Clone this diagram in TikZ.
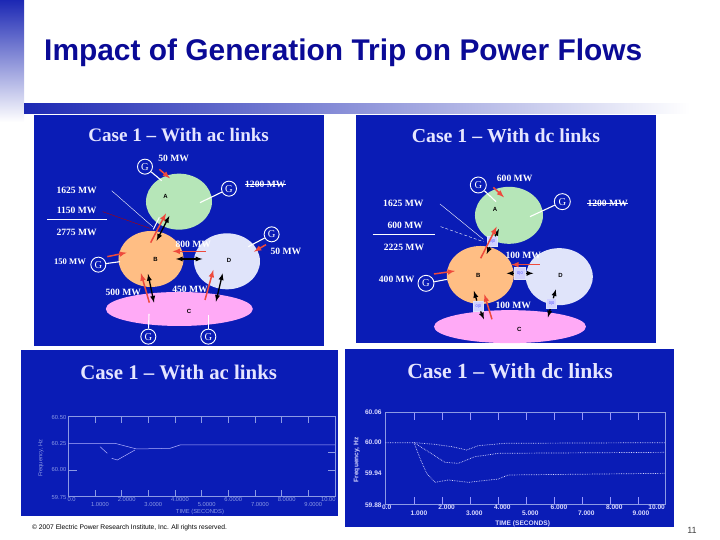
\documentclass[tikz,border=0pt]{standalone}
\usepackage{fontspec}
\setmainfont{Liberation Serif}
\setsansfont{Liberation Sans}
\usetikzlibrary{shapes.geometric}
\definecolor{panelblue}{HTML}{0A1CB6}
\definecolor{barblue}{HTML}{1C28B4}
\definecolor{titleblue}{HTML}{0A0A96}
\definecolor{zonegreen}{HTML}{B6E6B8}
\definecolor{zoneorange}{HTML}{FFBE84}
\definecolor{zonelav}{HTML}{E0E4FA}
\definecolor{zonepink}{HTML}{FFAAF6}
\definecolor{flowred}{HTML}{EE4A3C}
\definecolor{plotline}{HTML}{8C9AE4}
\tikzset{
  panel/.style={fill=panelblue,draw=none},
  casetitle/.style={font=\rmfamily\bfseries\fontsize{#1}{#1}\selectfont,text=white!90!blue},
  mwlabel/.style={font=\rmfamily\bfseries\fontsize{9.6}{10}\selectfont,text=white,inner sep=0pt},
  zone/.style={ellipse,draw=none,inner sep=0pt,font=\sffamily\bfseries\fontsize{6}{7}\selectfont,text=black},
  gen/.style={circle,draw=white,line width=0.9pt,fill=panelblue,text=white,minimum size=#1,inner sep=0pt,font=\rmfamily\fontsize{10.5}{10}\selectfont},
  genline/.style={white,line width=1.1pt},
  flow/.style={->,flowred,line width=1.5pt},
  tie/.style={<->,black,line width=1.3pt},
  tieshort/.style={->,black,line width=1.3pt},
  dclink/.style={rectangle,draw=zonelav,line width=0.8pt,fill=white!82!blue,text=blue!70!white,inner sep=0pt,minimum size=#1,font=\sffamily\fontsize{4}{4}\selectfont},
  plotlab/.style={font=\sffamily\fontsize{5.8}{6}\selectfont,inner sep=0pt,text=#1},
  plotlabb/.style={font=\sffamily\bfseries\fontsize{6.6}{7}\selectfont,inner sep=0pt,text=white!85!blue},
}
\begin{document}
\begin{tikzpicture}[x=1pt,y=-1pt,>=latex]
\useasboundingbox (0,0) rectangle (720,540);

% slide frame
\shade[top color=barblue,bottom color=white] (0,0) rectangle (24,122);
\shade[left color=barblue,right color=white] (24,104) rectangle (690,114);
\node[anchor=west,inner sep=0pt,font=\sffamily\bfseries\fontsize{29.9}{32}\selectfont,text=titleblue] (slidetitle) at (44,53) {Impact of Generation Trip on Power Flows};

% top left, ac links
\begin{scope}[shift={(30,110)},x=0.3333pt,y=-0.3333pt]
\fill[panel] (12,14) rectangle (882,708);
\node[casetitle=19.1] (atitle) at (446,74) {Case 1 -- With ac links};
\node[zone,fill=zonegreen,minimum width=66pt,minimum height=56pt] (aA) at (447,275) {};
\node[zone,fill=zoneorange,minimum width=65pt,minimum height=56pt] (aB) at (363,447) {};
\node[zone,fill=zonelav,minimum width=66pt,minimum height=56pt] (aD) at (591,454) {};
\node[zone,fill=zonepink,minimum width=147pt,minimum height=34pt] (aC) at (448,597) {};
\node[zone] at (407,258) {A};
\node[zone] at (377,447) {B};
\node[zone] at (597,450) {D};
\node[zone] at (477,605) {C};
\node[gen=15pt] (aG1) at (345,170) {G};
\node[gen=15pt] (aG2) at (597,236) {G};
\node[gen=15pt] (aG3) at (725,373) {G};
\node[gen=15pt] (aG4) at (205,464) {G};
\node[gen=15pt] (aG5) at (355,680) {G};
\node[gen=15pt] (aG6) at (535,680) {G};
\coordinate (aE1) at (395,212);
\coordinate (aE2) at (510,278);
\coordinate (aE3) at (655,410);
\coordinate (aE4) at (270,455);
\coordinate (aE5) at (357,612);
\coordinate (aE6) at (535,615);
\draw[genline] (aG1) -- (aE1);
\draw[genline] (aG2) -- (aE2);
\draw[genline] (aG3) -- (aE3);
\draw[genline] (aG4) -- (aE4);
\draw[genline] (aG5) -- (aE5);
\draw[genline] (aG6) -- (aE6);
\node[mwlabel] (aM1) at (431,146) {50 MW};
\node[mwlabel] (aM2) at (706,222) {1200 MW};
\draw[white,line width=0.6pt] (aM2.west) -- (aM2.east);
\node[mwlabel] (aM3) at (140,242) {1625 MW};
\node[mwlabel] (aM4) at (140,302) {1150 MW};
\node[mwlabel] (aM5) at (140,367) {2775 MW};
\node[mwlabel] (aM6) at (490,402) {800 MW};
\node[mwlabel] (aM7) at (768,424) {50 MW};
\node[mwlabel,font=\rmfamily\bfseries\fontsize{8.6}{9}\selectfont] (aM8) at (120,456) {150 MW};
\node[mwlabel] (aM9) at (280,548) {500 MW};
\node[mwlabel] (aM10) at (480,537) {450 MW};
\coordinate (aS1) at (52,329);
\coordinate (aS2) at (230,329);
\draw[white,line width=0.8pt] (aS1) -- (aS2);
\coordinate (aP1) at (245,242);
\coordinate (aP2) at (368,350);
\coordinate (aP3) at (218,305);
\coordinate (aP4) at (360,355);
\draw[white,line width=0.4pt] (aP1) -- (aP2);
\draw[red!70!black,line width=0.4pt] (aP3) -- (aP4);
\coordinate (aQ1) at (370,358);
\coordinate (aQ2) at (388,322);
\draw[white,line width=1pt] (aQ1) -- (aQ2);
\draw[tie] (380,392) coordinate (aT1) -- (418,318) coordinate (aT2);
\draw[tie] (438,447) coordinate (aT3) -- (517,447) coordinate (aT4);
\draw[tie] (354,492) coordinate (aT5) -- (372,578) coordinate (aT6);
\draw[tie] (578,490) coordinate (aT7) -- (558,575) coordinate (aT8);
\draw[flow] (388,178) coordinate (aF1) -- (420,205) coordinate (aF2);
\draw[flow] (362,398) coordinate (aF3) -- (408,310) coordinate (aF4);
\draw[flow] (528,424) coordinate (aF5) -- (428,424) coordinate (aF6);
\draw[flow] (708,404) coordinate (aF7) -- (672,425) coordinate (aF8);
\draw[flow] (232,440) coordinate (aF9) -- (290,428) coordinate (aF10);
\draw[flow] (358,578) coordinate (aF11) -- (333,490) coordinate (aF12);
\draw[flow] (525,570) coordinate (aF13) -- (550,480) coordinate (aF14);
\end{scope}

% top right, dc links
\begin{scope}[shift={(350,110)},x=0.3333pt,y=-0.3333pt]
\fill[panel] (18,14) rectangle (918,700);
\node[casetitle=19.8] (btitle) at (468,78) {Case 1 -- With dc links};
\node[zone,fill=zonegreen,minimum width=68pt,minimum height=57pt] (bA) at (477,316) {};
\node[zone,fill=zoneorange,minimum width=67pt,minimum height=58pt] (bB) at (391,495) {};
\node[zone,fill=zonelav,minimum width=67pt,minimum height=57pt] (bD) at (628,500) {};
\node[zone,fill=zonepink,minimum width=152pt,minimum height=33pt] (bC) at (480,650) {};
\node[zone] at (435,297) {A};
\node[zone] at (385,497) {B};
\node[zone] at (632,497) {D};
\node[zone] at (508,657) {C};
\node[gen=16pt] (bG1) at (385,225) {G};
\node[gen=16pt] (bG2) at (637,275) {G};
\node[gen=16pt] (bG3) at (228,520) {G};
\coordinate (bE1) at (438,275);
\coordinate (bE2) at (540,320);
\coordinate (bE3) at (292,508);
\draw[genline] (bG1) -- (bE1);
\draw[genline] (bG2) -- (bE2);
\draw[genline] (bG3) -- (bE3);
\node[mwlabel] (bM1) at (494,206) {600 MW};
\node[mwlabel] (bM2) at (773,279) {1200 MW};
\draw[white,line width=0.6pt] (bM2.west) -- (bM2.east);
\node[mwlabel] (bM3) at (160,281) {1625 MW};
\node[mwlabel] (bM4) at (166,346) {600 MW};
\node[mwlabel] (bM5) at (162,411) {2225 MW};
\node[mwlabel] (bM6) at (140,508) {400 MW};
\node[mwlabel] (bM7) at (520,437) {100 MW};
\node[mwlabel] (bM8) at (490,587) {100 MW};
\coordinate (bS1) at (68,373);
\coordinate (bS2) at (254,373);
\draw[white,line width=0.8pt] (bS1) -- (bS2);
\coordinate (bP1) at (270,282);
\coordinate (bP2) at (400,388);
\coordinate (bP3) at (272,350);
\coordinate (bP4) at (400,395);
\draw[white,line width=0.4pt] (bP1) -- (bP2);
\draw[white,densely dashed,line width=0.4pt] (bP3) -- (bP4);
\coordinate (bT1) at (447,357);
\coordinate (bT2) at (410,432);
\coordinate (bT3) at (470,490);
\coordinate (bT4) at (550,490);
\coordinate (bT5) at (372,543);
\coordinate (bT6) at (402,628);
\coordinate (bT7) at (618,538);
\coordinate (bT8) at (594,622);
\node[dclink=10pt] (bL1) at (427,395) {0|0};
\node[dclink=11.5pt] (bL2) at (510,490) {0|0};
\node[dclink=10pt] (bL3) at (385,588) {0|0};
\node[dclink=10pt] (bL4) at (605,581) {0|0};
\draw[tieshort] (bL1) -- (bT1);
\draw[tieshort] (bL1) -- (bT2);
\draw[tieshort] (bL2) -- (bT3);
\draw[tieshort] (bL2) -- (bT4);
\draw[tieshort] (bL3) -- (bT5);
\draw[tieshort] (bL3) -- (bT6);
\draw[tieshort] (bL4) -- (bT7);
\draw[tieshort] (bL4) -- (bT8);
\draw[flow] (430,232) coordinate (bF1) -- (462,262) coordinate (bF2);
\draw[flow] (392,445) coordinate (bF3) -- (440,350) coordinate (bF4);
\draw[flow] (570,464) coordinate (bF5) -- (484,464) coordinate (bF6);
\draw[flow] (252,492) coordinate (bF7) -- (315,483) coordinate (bF8);
\draw[flow] (426,628) coordinate (bF9) -- (403,553) coordinate (bF10);
\end{scope}

% bottom left, ac plot
\begin{scope}[shift={(20,345)},x=0.3333pt,y=-0.3333pt]
\fill[panel] (3,14) rectangle (955,513);
\node[casetitle=20.8] (ctitle) at (476,82) {Case 1 -- With ac links};
\draw[plotline,line width=0.4pt] (145,215) rectangle (945,455);
\foreach \tx in {225,305,...,865} {
  \draw[plotline,line width=0.4pt] (\tx,215) -- (\tx,235);
  \draw[plotline,line width=0.4pt] (\tx,455) -- (\tx,435);
}
\draw[plotline,line width=0.4pt] (145,375) -- (170,375);
\draw[plotline,line width=0.4pt] (945,375) -- (925,375);
\draw[plotline,line width=0.4pt] (945,322) -- (925,322);
\draw[white!70!blue,line width=0.5pt] (145,295) -- (285,295) -- (350,312) -- (450,310) -- (480,300) -- (945,300);
\draw[white!70!blue,line width=0.5pt] (240,305) -- (262,325);
\draw[white!70!blue,line width=0.5pt] (275,340) -- (292,345) -- (345,315);
\node[plotlab=plotline] at (117,217) {60.50};
\node[plotlab=plotline] at (117,295) {60.25};
\node[plotlab=plotline] at (117,375) {60.00};
\node[plotlab=plotline] at (117,457) {59.75};
\foreach \tx/\tl in {155/0.0,320/2.0000,480/4.0000,640/6.0000,800/8.0000,925/10.00}
  \node[plotlab=plotline] at (\tx,465) {\tl};
\foreach \tx/\tl in {240/1.0000,400/3.0000,560/5.0000,720/7.0000,880/9.0000}
  \node[plotlab=plotline] at (\tx,478) {\tl};
\node[plotlab=plotline] at (540,500) {TIME (SECONDS)};
\node[plotlab=plotline,rotate=90] at (63,340) {Frequency, Hz};
\end{scope}

% bottom right, dc plot
\begin{scope}[shift={(345,345)},x=0.3333pt,y=-0.3333pt]
\fill[panel] (0,12) rectangle (987,545);
\node[casetitle=21.6] (dtitle) at (495,79) {Case 1 -- With dc links};
\draw[plotline,line width=0.4pt] (120,203) rectangle (960,478);
\foreach \tx in {207,291,...,880} {
  \draw[white!60!blue,line width=0.4pt] (\tx,203) -- (\tx,226);
  \draw[white!60!blue,line width=0.4pt] (\tx,478) -- (\tx,455);
}
\draw[white!85!blue,densely dotted,line width=0.7pt] (120,293) -- (207,293) -- (270,298) -- (320,305) -- (365,315) -- (400,302) -- (480,295) -- (960,293);
\draw[white!85!blue,densely dotted,line width=0.7pt] (207,293) -- (250,320) -- (300,352) -- (340,355) -- (390,335) -- (460,325) -- (960,322);
\draw[white!85!blue,densely dotted,line width=0.7pt] (207,293) -- (225,340) -- (245,385) -- (270,412) -- (310,405) -- (370,412) -- (460,402) -- (490,390) -- (960,385);
\node[plotlabb] at (85,203) {60.06};
\node[plotlabb] at (85,293) {60.00};
\node[plotlabb] at (85,385) {59.94};
\node[plotlabb] at (85,480) {59.88};
\foreach \tx/\tl in {125/0.0,305/2.000,472/4.000,642/6.000,808/8.000,935/10.00}
  \node[plotlabb] at (\tx,488) {\tl};
\foreach \tx/\tl in {222/1.000,388/3.000,556/5.000,724/7.000,888/9.000}
  \node[plotlabb] at (\tx,505) {\tl};
\node[plotlabb] at (533,535) {TIME (SECONDS)};
\node[plotlabb,rotate=90] at (35,345) {Frequency, Hz};
\end{scope}

% footer
\node[anchor=west,inner sep=0pt,font=\sffamily\fontsize{6.7}{7}\selectfont] (copyright) at (32,528) {© 2007 Electric Power Research Institute, Inc. All rights reserved.};
\node[inner sep=0pt,font=\sffamily\fontsize{9}{9}\selectfont,text=black!75] (pagenum) at (692,530) {11};
\end{tikzpicture}
\end{document}
